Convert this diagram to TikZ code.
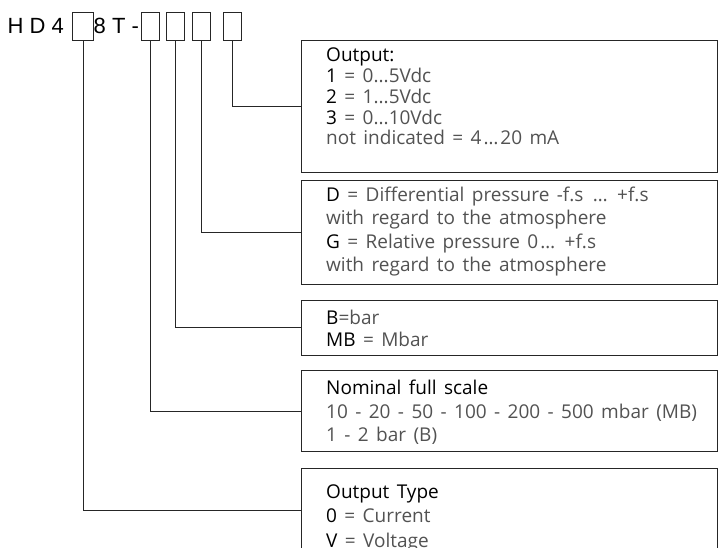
\documentclass[tikz,border=0pt]{standalone}
\usepackage{fontspec}
\setmainfont{Open Sans}[WordSpace=1.5]
\newfontfamily\codefont{Liberation Sans}
\usetikzlibrary{positioning}

\tikzset{
  slot/.style={draw=black!85, line width=1pt, minimum width=18pt, minimum height=28pt, inner sep=0pt, anchor=north west},
  panel/.style={draw=black!85, line width=1pt, minimum width=416pt, inner sep=0pt, anchor=north west},
  code/.style={anchor=base west, inner sep=0pt, font=\codefont\fontsize{22}{22}\selectfont},
  desc/.style={anchor=base west, inner sep=0pt, font=\fontsize{19}{19}\selectfont, text=black!68},
  link/.style={draw=black!85, line width=1pt},
}
\newcommand{\kw}[1]{\textcolor{black}{#1}}
\newcommand{\tdots}{...}
\newcommand{\ldts}{\kern2pt…\kern2pt}

\begin{document}
\begin{tikzpicture}[x=1pt,y=-1pt]
\useasboundingbox (0,0) rectangle (721,548);
\clip (0,0) rectangle (721,548);

% Order code
\node[code] (hd) at (7.5,33.5) {H D 4};
\node[slot, minimum width=21pt] (s1) at (72,12) {};
\node[code] (mid) at (93.5,33.5) {8 T -};
\node[slot] (s2) at (141,12) {};
\node[slot] (s3) at (166,12) {};
\node[slot] (s4) at (192,12) {};
\node[slot] (s5) at (223,12) {};

% Panels
\node[panel, minimum height=132pt] (pA) at (301,40) {};
\node[panel, minimum height=104pt] (pB) at (301,180) {};
\node[panel, minimum height=55pt] (pC) at (301,300) {};
\node[panel, minimum height=81pt] (pD) at (301,370) {};
\node[panel, minimum height=84pt] (pE) at (301,468) {};

% Panel texts
\foreach \txt [count=\i from 0] in {{\kw{Output:}}, {\kw{1} = 0\tdots5Vdc}, {\kw{2} = 1\tdots5Vdc}, {\kw{3} = 0\tdots10Vdc}, {not indicated = 4\ldts20 mA}}
  \node[desc] (tA\i) at (326,{61.7+20.8*\i}) {\txt};
\foreach \txt [count=\i from 0] in {{\kw{D} = Differential pressure -f.s \ldts{} +f.s}, {with regard to the atmosphere}, {\kw{G} = Relative pressure 0\ldts{} +f.s}, {with regard to the atmosphere}}
  \node[desc] (tB\i) at (326,{201.7+23.3*\i}) {\txt};
\foreach \txt [count=\i from 0] in {{\kw{B}=bar}, {\kw{MB} = Mbar}}
  \node[desc] (tC\i) at (326,{324.3+22.4*\i}) {\txt};
\foreach \txt [count=\i from 0] in {{\kw{Nominal full scale}}, {10 - 20 - 50 - 100 - 200 - 500 mbar (MB)}, {1 - 2 bar (B)}}
  \node[desc] (tD\i) at (326,{395+23.3*\i}) {\txt};
\foreach \txt [count=\i from 0] in {{\kw{Output Type}}, {\kw{0} = Current}, {\kw{V} = Voltage}}
  \node[desc] (tE\i) at (326,{498.3+24.5*\i}) {\txt};

% Connectors
\draw[link] (s5.south) |- (pA.west);
\draw[link] (s4.south) |- (pB.west);
\draw[link] (s3.south) |- (pC.west);
\draw[link] (s2.south) |- (pD.west);
\draw[link] (s1.south) |- (pE.west);
\end{tikzpicture}
\end{document}
